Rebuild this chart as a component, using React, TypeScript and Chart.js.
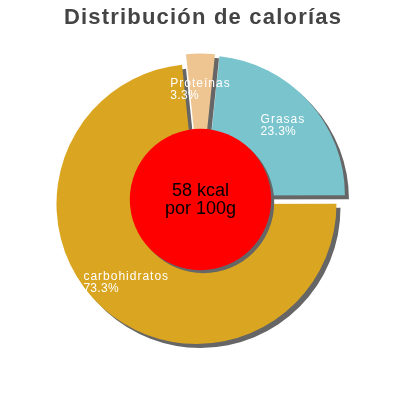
import React, { useEffect, useRef } from 'react';
import { Chart, registerables } from 'chart.js';

Chart.register(...registerables);

const TITLE = 'Distribución de calorías';
const labels = ['Proteínas', 'Grasas', 'carbohidratos'];
const values = [3.3, 23.3, 73.3];
const colors = ['#EEC591', '#7AC5CD', '#DAA520'];
const centerLines = ['58 kcal', 'por 100g'];

const SHIFT = 6;
const SHADOW = '#666666';
const FONT = '"Liberation Sans", Arial, sans-serif';
const total = values.reduce((a, b) => a + b, 0);

// draws the slices pulled apart with a hard drop shadow, then the red centre and labels
const piePlugin = {
  id: 'piePlugin',
  beforeDatasetDraw(chart: any, args: any) {
    const { ctx } = chart;
    const arcs = args.meta.data;
    ctx.save();
    ctx.shadowColor = SHADOW;
    ctx.shadowOffsetX = 4;
    ctx.shadowOffsetY = 4;
    ctx.shadowBlur = 0;
    [2, 1, 0].forEach((i) => {
      const arc = arcs[i];
      const mid = (arc.startAngle + arc.endAngle) / 2;
      ctx.save();
      ctx.translate(Math.cos(mid) * SHIFT, Math.sin(mid) * SHIFT);
      arc.draw(ctx);
      ctx.restore();
    });
    ctx.restore();
    return false;
  },
  afterDatasetsDraw(chart: any) {
    const { ctx } = chart;
    const arcs = chart.getDatasetMeta(0).data;
    const { x, y, outerRadius } = arcs[0];

    ctx.save();
    ctx.shadowColor = SHADOW;
    ctx.shadowOffsetX = 3;
    ctx.shadowOffsetY = 3;
    ctx.fillStyle = '#FF0000';
    ctx.beginPath();
    ctx.arc(x, y, outerRadius * 0.505, 0, Math.PI * 2);
    ctx.fill();
    ctx.restore();

    ctx.save();
    ctx.fillStyle = '#000';
    ctx.font = `18px ${FONT}`;
    ctx.textAlign = 'center';
    ctx.textBaseline = 'alphabetic';
    ctx.fillText(centerLines[0], x, y - 4);
    ctx.fillText(centerLines[1], x, y + 14.5);

    ctx.fillStyle = '#fff';
    ctx.textAlign = 'left';
    ctx.font = `12px ${FONT}`;
    arcs.forEach((arc: any, i: number) => {
      const mid = (arc.startAngle + arc.endAngle) / 2;
      const r = SHIFT + arc.outerRadius * 0.75;
      const cx = arc.x + Math.cos(mid) * r;
      const cy = arc.y + Math.sin(mid) * r;
      const pct = `${values[i].toFixed(1)}%`;
      ctx.letterSpacing = '1px';
      const w1 = ctx.measureText(labels[i]).width;
      ctx.letterSpacing = '0.3px';
      const w2 = ctx.measureText(pct).width;
      const left = cx - Math.max(w1, w2) / 2;
      ctx.letterSpacing = '1px';
      ctx.fillText(labels[i], left, cy - 2);
      ctx.letterSpacing = '0.3px';
      ctx.fillText(pct, left, cy + 10);
    });
    ctx.restore();
  },
  afterDraw(chart: any) {
    const { ctx } = chart;
    ctx.save();
    ctx.font = `bold 22px ${FONT}`;
    ctx.letterSpacing = '1.2px';
    ctx.fillStyle = '#444444';
    ctx.textAlign = 'center';
    ctx.textBaseline = 'alphabetic';
    ctx.fillText(TITLE, 203, 24);
    ctx.restore();
  },
};

export default function App() {
  const canvasRef = useRef<HTMLCanvasElement>(null);

  useEffect(() => {
    if (!canvasRef.current) return;
    const chart = new Chart(canvasRef.current, {
      type: 'pie',
      data: {
        labels,
        datasets: [
          {
            data: values,
            backgroundColor: colors,
            borderWidth: 0,
            offset: 0,
            hoverOffset: 0,
            radius: 140,
          },
        ],
      },
      options: {
        responsive: true,
        maintainAspectRatio: false,
        animation: false,
        events: [],
        rotation: -(values[0] / total) * 180,
        layout: { padding: { top: 40, bottom: 41, left: 1, right: 0 } },
        plugins: {
          legend: { display: false },
          tooltip: { enabled: false },
          title: { display: false },
        },
      },
      plugins: [piePlugin],
    });
    return () => chart.destroy();
  }, []);

  return (
    <div style={{ position: 'absolute', left: 0, top: 0, width: 400, height: 400 }}>
      <canvas ref={canvasRef}></canvas>
    </div>
  );
}
